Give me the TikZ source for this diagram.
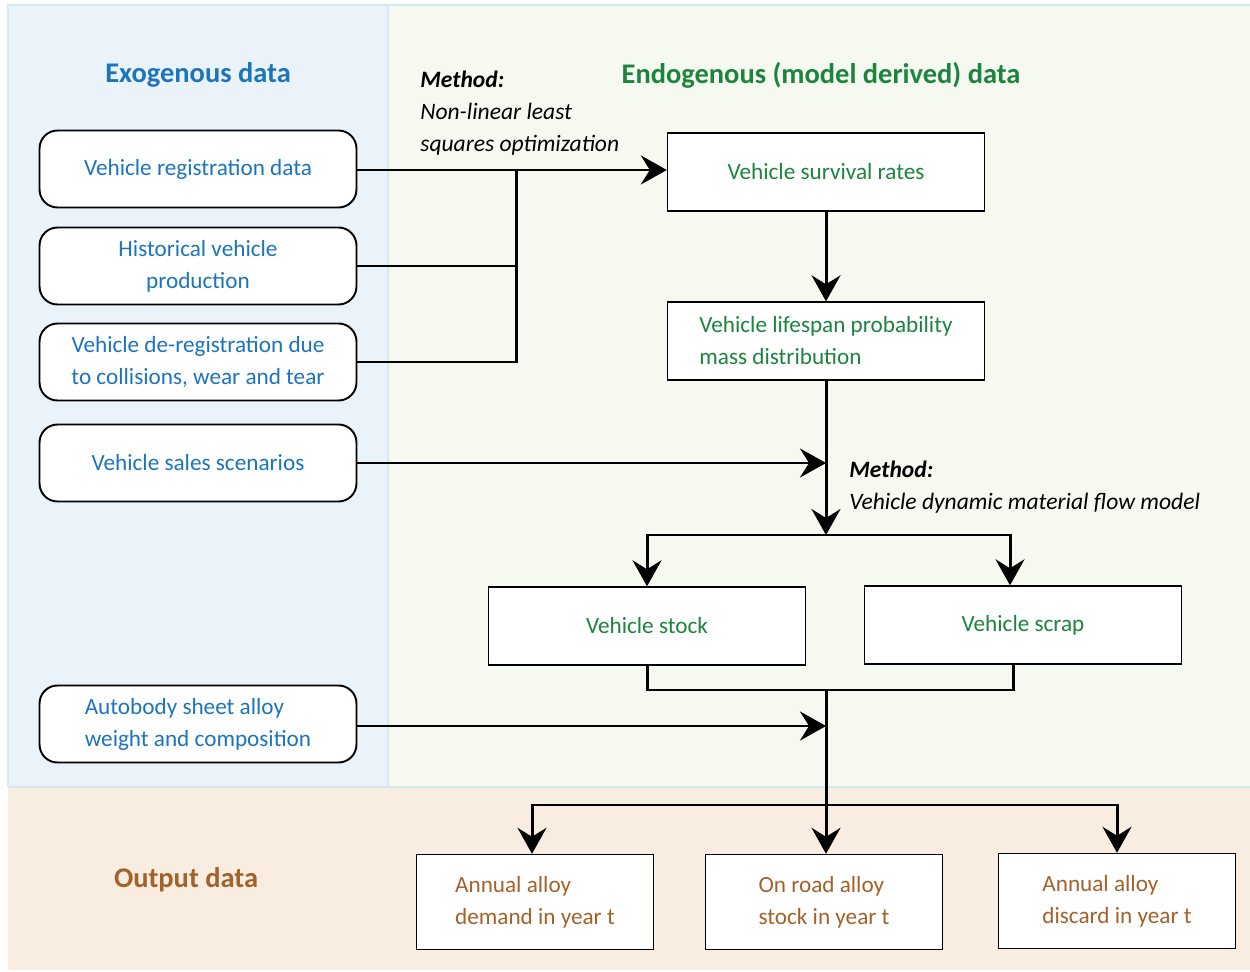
\documentclass[tikz,border=0pt]{standalone}
\usepackage{xcolor}
\usepackage{fontspec}
\setmainfont{Carlito}
\usepackage{tikz}
\usetikzlibrary{arrows.meta,positioning,calc}

\definecolor{exoblue}{RGB}{28,117,188}
\definecolor{endogreen}{RGB}{28,132,62}
\definecolor{outbrown}{RGB}{163,98,42}
\definecolor{exobg}{RGB}{235,243,250}
\definecolor{endobg}{RGB}{246,249,240}
\definecolor{outbg}{RGB}{249,236,224}
\definecolor{panelline}{RGB}{214,233,236}

\tikzset{
  exobox/.style={draw, line width=1.1pt, rounded corners=0.36cm, fill=white, text=exoblue,
    minimum width=6.34cm, minimum height=1.54cm, align=center, font=\fontsize{13.2}{18.2}\selectfont},
  endobox/.style={draw, line width=0.8pt, fill=white, text=endogreen,
    minimum width=6.34cm, minimum height=1.56cm, align=center, font=\fontsize{13.2}{18.2}\selectfont},
  outbox/.style={draw, line width=0.8pt, fill=white, text=outbrown,
    minimum width=4.74cm, minimum height=1.9cm, align=left, font=\fontsize{13.2}{18.2}\selectfont},
  heading/.style={font=\fontsize{16.2}{19}\selectfont\bfseries},
  methodnote/.style={align=left, inner sep=0pt, font=\fontsize{13.4}{18.2}\selectfont\itshape},
  flow/.style={line width=1.7pt, -{Stealth[length=0.52cm, width=0.58cm, inset=0.18cm]}},
  link/.style={line width=1.7pt}
}

\begin{document}
\begin{tikzpicture}[x=0.02cm, y=-0.02cm]
\useasboundingbox (0,0) rectangle (1250,972);

% panels
\fill[exobg] (8,5) rectangle (388,787);
\fill[endobg] (388,5) rectangle (1250,787);
\fill[outbg] (8,787) rectangle (1250,970);
\draw[panelline, line width=0.6pt] (8,787) -- (8,5) -- (1250,5);
\draw[panelline, line width=0.6pt] (388,5) -- (388,787);
\draw[panelline, line width=0.6pt] (8,787) -- (1250,787);

% headings
\node[heading, text=exoblue] (exotitle) at (198,75) {Exogenous data};
\node[heading, text=endogreen] (endotitle) at (821,75) {Endogenous (model derived) data};
\node[heading, text=outbrown] (outtitle) at (186,880) {Output data};

% exogenous inputs
\node[exobox] (reg) at (198,169) {Vehicle registration data};
\node[exobox] (hist) at (198,266) {Historical vehicle\\production};
\node[exobox] (dereg) at (198,362) {Vehicle de-registration due\\to collisions, wear and tear};
\node[exobox] (sales) at (198,463) {Vehicle sales scenarios};
\node[exobox, align=left] (autobody) at (198,724) {Autobody sheet alloy\\weight and composition};

% model derived data
\node[endobox] (survival) at (826,172) {Vehicle survival rates};
\node[endobox, align=left] (lifespan) at (826,341) {Vehicle lifespan probability\\mass distribution};
\node[endobox] (stock) at (647,626) {Vehicle stock};
\node[endobox] (scrap) at (1023,625) {Vehicle scrap};

% outputs
\node[outbox] (demand) at (535,902) {Annual alloy\\demand in year t};
\node[outbox] (onroad) at (824,902) {On road alloy\\stock in year t};
\node[outbox] (discard) at (1117,901) {Annual alloy\\discard in year t};

% method notes
\node[methodnote, anchor=west] (fitnote) at (420,113) {\textbf{Method:}\\Non-linear least\\squares optimization};
\node[methodnote, anchor=west] (dmfnote) at (849,487) {\textbf{Method:}\\Vehicle dynamic material flow model};

% junctions
\coordinate (fitjoin) at (516,170);
\coordinate (split) at (826,535);
\coordinate (merge) at (826,690);
\coordinate (fanout) at (826,805);

% connectors
\draw[flow] (reg.east |- fitjoin) -- (survival.west |- fitjoin);
\draw[link] (hist.east) -| (fitjoin);
\draw[link] (dereg.east) -| (fitjoin);
\draw[flow] (survival) -- (lifespan);
\draw[flow] (lifespan) -- (split);
\draw[flow] (sales.east) -- (sales.east -| lifespan.south);
\draw[flow] (split) -| (stock.north);
\draw[flow] (split) -| ([xshift=-0.26cm]scrap.north);
\draw[link] (stock.south) |- (merge) -| ([xshift=-0.2cm]scrap.south);
\draw[flow] (autobody.east |- 0,726) -- (merge |- 0,726);
\draw[flow] (merge) -- (onroad.north -| merge);
\draw[flow] (fanout) -| ([xshift=-0.06cm]demand.north);
\draw[flow] (fanout) -| (discard.north);
\end{tikzpicture}
\end{document}
